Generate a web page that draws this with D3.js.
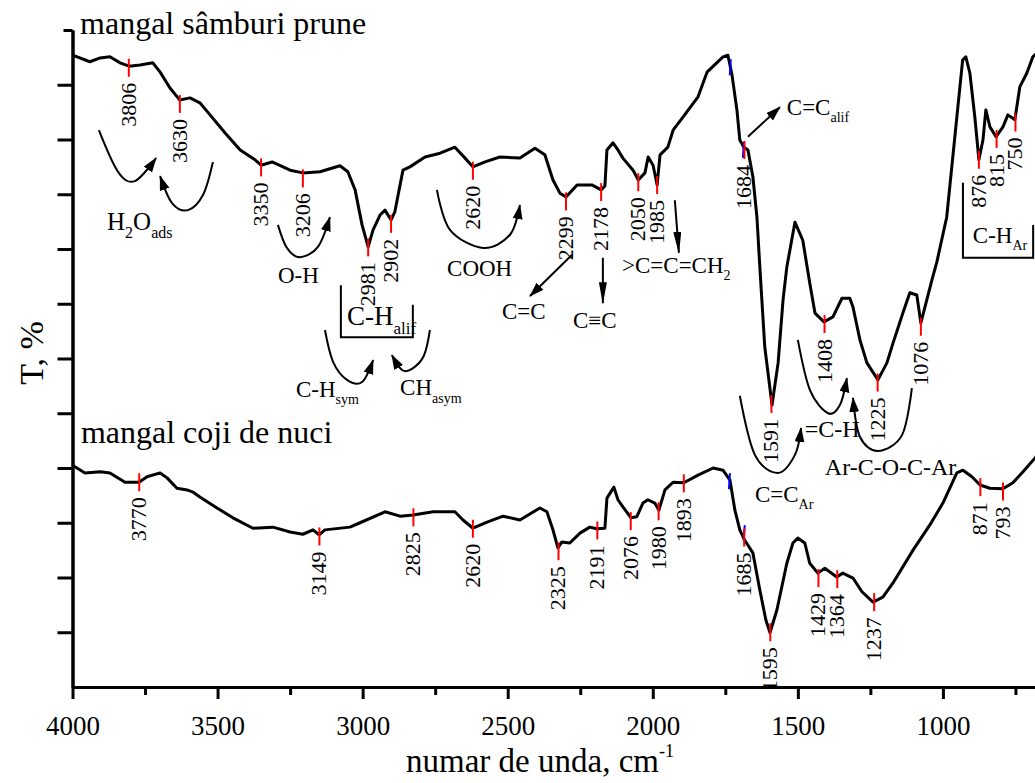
<!DOCTYPE html>
<html>
<head>
<meta charset="utf-8">
<script src="https://cdn.jsdelivr.net/npm/d3@7"></script>
<style>
body { margin: 0; background: #fff; }
svg, svg text { font-family: "Liberation Serif", "Times New Roman", serif; fill: #000; }
</style>
</head>
<body>
<script>
// spectrum of "mangal sâmburi prune" (wavenumber cm-1 / T %)
var prunWn = [4000,3940,3905,3871,3836,3805,3767,3723,3698,3664,3630,3595,3561,3526,3474,3422,3371,3350,3312,3250,3206,3147,3078,3051,3026,3002,2981,2964,2940,2923,2902,2889,2861,2837,2785,2733,2682,2647,2620,2578,2527,2458,2406,2372,2344,2320,2299,2261,2210,2178,2165,2158,2137,2120,2103,2068,2050,2027,2016,1999,1985,1975,1948,1930,1896,1844,1813,1758,1741,1727,1710,1700,1686,1672,1655,1641,1631,1614,1589,1568,1551,1538,1510,1483,1459,1441,1410,1379,1348,1321,1310,1286,1262,1224,1193,1172,1138,1114,1090,1076,1062,1038,1021,987,952,932,921,907,890,876,862,852,838,817,793,776,752,735,711,690,666];
var prunT = [115.4,114.2,114.9,115.1,114.0,113.4,113.6,114.0,112.3,109.4,107.2,107.6,106.7,104.5,101.2,98.1,96.3,95.3,95.9,94.4,93.9,94.1,95.2,94.1,90.8,84.4,80.4,83.5,86.2,87.1,85.3,86.8,94.4,95.0,96.8,97.5,98.6,96.6,95.0,95.9,96.8,96.6,98.4,97.2,92.6,90.2,89.5,91.7,91.7,90.8,91.5,98.1,99.4,98.1,96.6,94.4,92.6,93.9,96.8,95.3,91.7,97.2,98.6,101.7,104.1,107.8,112.3,115.1,115.4,111.8,105.4,99.9,98.6,98.1,93.2,85.8,76.7,62.1,51.5,59.2,70.7,76.7,84.9,81.6,73.8,68.3,66.7,67.6,71.0,71.0,69.4,63.4,59.2,56.1,59.2,62.8,68.3,72.0,71.6,66.5,69.4,74.3,77.6,85.8,104.1,114.5,115.1,112.1,104.1,96.3,99.9,105.4,102.3,100.5,102.3,104.5,103.6,109.6,112.1,115.1,116.3];

// spectrum of "mangal coji de nuci"
var nuciWn = [4000,3957,3905,3871,3819,3771,3743,3698,3674,3640,3605,3585,3561,3502,3447,3378,3309,3250,3206,3171,3150,3130,3044,3009,2923,2871,2826,2757,2682,2654,2620,2571,2516,2458,2389,2365,2344,2327,2313,2286,2251,2217,2193,2165,2158,2134,2120,2103,2075,2055,2034,2017,1993,1979,1958,1930,1893,1844,1792,1758,1734,1717,1700,1683,1655,1631,1610,1596,1572,1538,1517,1500,1476,1459,1431,1407,1366,1345,1310,1279,1241,1207,1172,1103,1045,1000,952,931,900,872,838,793,759,724,683,648];
var nuciT = [40.5,39.1,39.3,39.1,37.4,37.4,38.4,39.1,38.2,36.3,36.0,35.6,34.7,32.7,30.9,29.0,29.2,28.3,27.9,28.7,27.8,28.7,29.2,30.0,32.0,31.2,31.4,32.0,32.0,30.5,29.0,30.1,31.2,30.5,32.7,32.0,28.7,25.4,26.5,26.3,28.1,29.2,28.9,29.0,34.5,36.5,34.2,32.9,30.9,31.1,33.6,34.2,33.6,32.3,36.0,37.4,37.3,38.7,40.0,39.6,37.8,32.3,28.7,26.8,24.5,17.7,12.2,9.9,14.1,22.6,26.3,27.2,26.3,22.6,20.8,21.7,20.1,20.8,19.9,17.4,15.5,16.4,19.0,25.0,29.6,33.6,39.1,39.6,38.4,36.9,36.3,36.2,37.3,39.3,41.8,44.2];

// marked peaks
var prunPeakWn = [3806,3630,3350,3206,2981,2902,2620,2299,2178,2050,1985,1684,1591,1408,1225,1076,876,815,750];
var prunPeakT = [113.1,106.5,94.9,92.9,80.3,84.6,94.3,88.7,90.4,92.2,91.7,98.1,51.7,66.3,55.6,65.8,96.3,100.1,103.1];
var nuciPeakWn = [3770,3149,2825,2620,2325,2191,2076,1980,1893,1685,1595,1429,1364,1237,871,793];
var nuciPeakT = [37.4,27.5,31.0,28.9,24.8,28.6,30.3,32.1,37.2,27.3,10.0,19.9,19.7,15.5,36.5,35.7];
var blueWn = [1731,1686,1734,1683];
var blueT = [113.2,98.1,37.6,28.1];

var seriesNames = ["mangal sâmburi prune", "mangal coji de nuci"];
var xMajor = [4000,3500,3000,2500,2000,1500,1000];
var xMinor = [3750,3250,2750,2250,1750,1250,750];
var yTicks = [10,20,30,40,50,60,70,80,90,100,110];

var serif = "'Liberation Serif', 'Times New Roman', serif";

var svg = d3.select("body").append("svg")
    .attr("width", 1035).attr("height", 783)
    .style("font-family", serif);

var x = d3.scaleLinear().domain([4000, 400]).range([72.5, 1117]);
var y = d3.scaleLinear().domain([0, 120]).range([687, 30]);

// axes
var xAxis = svg.append("g").attr("transform", "translate(0,687)")
    .call(d3.axisBottom(x).tickValues(xMajor).tickSize(12).tickSizeOuter(0).tickPadding(17).tickFormat(d3.format("d")));
svg.append("g").attr("transform", "translate(0,687)")
    .call(d3.axisBottom(x).tickValues(xMinor).tickSize(8).tickSizeOuter(0).tickFormat(""));
svg.append("g").attr("transform", "translate(72.5,0)")
    .call(d3.axisLeft(y).tickValues(yTicks).tickSize(15).tickSizeOuter(0).tickFormat(""));
svg.append("g").attr("transform", "translate(72.5,0)")
    .call(d3.axisLeft(y).tickValues([120]).tickSize(9).tickSizeOuter(0).tickFormat(""));
svg.selectAll(".domain, .tick line").attr("stroke-width", 3).attr("stroke", "#000");
svg.selectAll("g").attr("font-family", serif);
xAxis.selectAll("text").style("font-family", serif).style("font-size", "27px");

svg.append("text").attr("x", 540).attr("y", 772).attr("text-anchor", "middle")
    .style("font-size", "33px")
    .text("numar de unda, cm")
    .append("tspan").attr("dy", -15).style("font-size", "18px").text("-1");
svg.append("text").attr("transform", "translate(43,353) rotate(-90)")
    .attr("text-anchor", "middle").style("font-size", "34px").text("T, %");

// spectra
var line = d3.line().x(function(d){ return x(d[0]); }).y(function(d){ return y(d[1]); });
[[prunWn, prunT], [nuciWn, nuciT]].forEach(function(s){
    svg.append("path")
        .datum(d3.zip(s[0], s[1]))
        .attr("d", line)
        .attr("fill", "none").attr("stroke", "#000")
        .attr("stroke-width", 3).attr("stroke-linejoin", "round");
});

// series names
svg.append("text").attr("x", x(3974)).attr("y", y(119.3)).style("font-size", "32px").text(seriesNames[0]);
svg.append("text").attr("x", x(3971)).attr("y", y(44.6)).style("font-size", "32px").text(seriesNames[1]);

// peak markers
svg.append("g").selectAll("line")
    .data(d3.zip(blueWn, blueT)).enter().append("line")
    .attr("x1", function(d){ return x(d[0]); }).attr("x2", function(d){ return x(d[0]) - 1; })
    .attr("y1", function(d){ return y(d[1]) - 8; }).attr("y2", function(d){ return y(d[1]) + 8; })
    .attr("stroke", "#0000ff").attr("stroke-width", 2);

var peaks = d3.zip(prunPeakWn, prunPeakT).concat(d3.zip(nuciPeakWn, nuciPeakT));
var pk = svg.append("g").selectAll("g").data(peaks).enter().append("g");
pk.append("line")
    .attr("x1", function(d){ return x(d[0]); }).attr("x2", function(d){ return x(d[0]); })
    .attr("y1", function(d){ return y(d[1]) - 9; }).attr("y2", function(d){ return y(d[1]) + 9; })
    .attr("stroke", "#ff0000").attr("stroke-width", 2);
pk.append("text")
    .attr("transform", function(d){ return "translate(" + (x(d[0]) + 7) + "," + (y(d[1]) + 15) + ") rotate(-90)"; })
    .attr("text-anchor", "end")
    .style("font-size", "22px")
    .text(function(d){ return d[0]; });

// annotations
var defs = svg.append("defs");
defs.append("marker").attr("id", "head").attr("markerUnits", "userSpaceOnUse")
    .attr("markerWidth", 16).attr("markerHeight", 12).attr("refX", 14).attr("refY", 5).attr("orient", "auto")
    .append("path").attr("d", "M0,0L15,5L0,10Z").attr("fill", "#000");
defs.append("marker").attr("id", "headLong").attr("markerUnits", "userSpaceOnUse")
    .attr("markerWidth", 22).attr("markerHeight", 10).attr("refX", 21).attr("refY", 4).attr("orient", "auto")
    .append("path").attr("d", "M0,0L22,4L0,8Z").attr("fill", "#000");

var ann = svg.append("g");
var curve = d3.line().x(function(d){ return x(d[0]); }).y(function(d){ return y(d[1]); }).curve(d3.curveCardinal);

var arcs = [
    [[3909,101.7],[3843,94.1],[3785,92.4],[3712,96.6]],
    [[3516,95.9],[3550,89.9],[3602,87.1],[3657,88.4],[3698,93.3]],
    [[3292,84.4],[3261,80.2],[3216,78.5],[3154,80.4],[3113,85.8]],
    [[3130,65.2],[3102,59.4],[3054,56.1],[3002,55.7],[2964,59.7]],
    [[2768,65.2],[2789,60.5],[2830,58.1],[2864,57.9],[2899,60.6]],
    [[2744,90.8],[2699,83.5],[2585,80.2],[2492,82.6],[2458,88.0]],
    [[1700,53.2],[1648,42.4],[1569,39.1],[1510,42.4],[1489,47.3]],
    [[1500,63.4],[1458,54.2],[1396,50.0],[1355,51.5],[1331,56.4]],
    [[1107,54.6],[1141,46.0],[1224,43.1],[1286,45.7],[1310,52.8]]
];
arcs.forEach(function(a){
    ann.append("path").attr("d", curve(a)).attr("fill", "none")
        .attr("stroke", "#000").attr("stroke-width", 2).attr("marker-end", "url(#head)");
});

var arrows = [
    [[2279,78.9],[2423,71.4],"head"],
    [[2172,78.4],[2172,70.1],"headLong"],
    [[1924,88.9],[1910,79.3],"headLong"],
    [[1672,100.5],[1562,105.9],"head"]
];
arrows.forEach(function(a){
    ann.append("line")
        .attr("x1", x(a[0][0])).attr("y1", y(a[0][1]))
        .attr("x2", x(a[1][0])).attr("y2", y(a[1][1]))
        .attr("stroke", "#000").attr("stroke-width", 2).attr("marker-end", "url(#" + a[2] + ")");
});

var boxes = [
    [[3075,73.4],[3075,63.9],[2827,63.9],[2827,69.8]],
    [[931,92.1],[931,78.4],[689,78.4],[689,84.4]]
];
boxes.forEach(function(b){
    ann.append("path").attr("d", line(b))
        .attr("fill", "none").attr("stroke", "#000").attr("stroke-width", 2);
});

function chem(wn, t, parts, size) {
    var tx = ann.append("text").attr("x", x(wn)).attr("y", y(t)).style("font-size", size + "px");
    var shift = 0;
    parts.forEach(function(p){
        var s = p[1] ? size * 0.32 : 0;
        tx.append("tspan").attr("dy", s - shift)
            .style("font-size", p[1] ? Math.round(size * 0.62) + "px" : null)
            .text(p[0]);
        shift = s;
    });
}
chem(3881, 83.5, [["H"],["2",1],["O"],["ads",1]], 25);
chem(3292, 73.8, [["O-H"]], 23);
chem(3054, 66.1, [["C-H"],["alif",1]], 27);
chem(3230, 53.0, [["C-H"],["sym",1]], 23);
chem(2871, 53.3, [["CH"],["asym",1]], 23);
chem(2709, 75.1, [["COOH"]], 23);
chem(2520, 67.2, [["C=C"]], 23);
chem(2275, 65.6, [["C\u2261C"]], 23);
chem(2106, 75.6, [[">C=C=CH"],["2",1]], 23);
chem(1538, 104.5, [["C=C"],["alif",1]], 23);
chem(897, 81.1, [["C-H"],["Ar",1]], 23);
chem(1476, 45.7, [["=C-H"]], 24);
chem(1407, 38.7, [["Ar-C-O-C-Ar"]], 24);
chem(1648, 33.8, [["C=C"],["Ar",1]], 23);
</script>
</body>
</html>
